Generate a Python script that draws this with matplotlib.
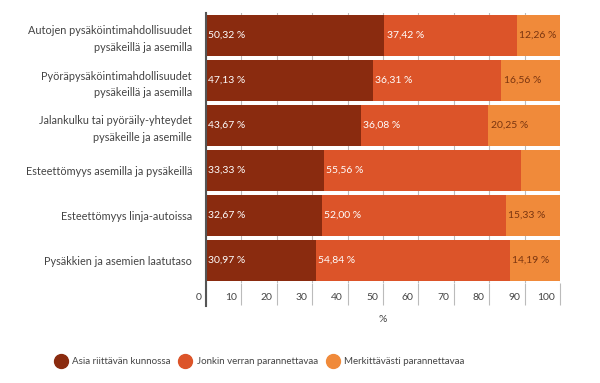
import numpy as np
import matplotlib.pyplot as plt
from matplotlib.lines import Line2D
from matplotlib.transforms import blended_transform_factory

categories = [
    "Autojen pysäköintimahdollisuudet\npysäkeillä ja asemilla",
    "Pyöräpysäköintimahdollisuudet\npysäkeillä ja asemilla",
    "Jalankulku tai pyöräily-yhteydet\npysäkeille ja asemille",
    "Esteettömyys asemilla ja pysäkeillä",
    "Esteettömyys linja-autoissa",
    "Pysäkkien ja asemien laatutaso",
]
series_names = ["Asia riittävän kunnossa", "Jonkin verran parannettavaa", "Merkittävästi parannettavaa"]
good = [50.32, 47.13, 43.67, 33.33, 32.67, 30.97]
some = [37.42, 36.31, 36.08, 55.56, 52.00, 54.84]
much = [12.26, 16.56, 20.25, 11.11, 15.33, 14.19]
show_label_much = [True, True, True, False, True, True]
xticks = [0, 10, 20, 30, 40, 50, 60, 70, 80, 90, 100]

colors = ["#8a2b0f", "#dc5429", "#f08a3a"]
text_colors = ["white", "white", "#7a3510"]

plt.rcParams['font.family'] = ['Lato', 'DejaVu Sans']

fig = plt.figure(figsize=(6, 3.83), dpi=100)
ax = fig.add_axes([206 / 600, 1 - 283 / 383, 354 / 600, 270 / 383])

y = np.arange(len(categories))
left = np.zeros(len(categories))
for vals, col, tcol, idx in zip([good, some, much], colors, text_colors, range(3)):
    ax.barh(y, vals, left=left, height=0.9, color=col, zorder=2)
    for i, v in enumerate(vals):
        if idx == 2 and not show_label_much[i]:
            continue
        ax.text(left[i] + 0.7, y[i], f"{v:.2f} %".replace(".", ","), color=tcol,
                va="center", ha="left", fontsize=7.5, zorder=3)
    left = left + np.array(vals)

ax.set_xlim(0, 100)
ax.set_ylim(len(categories) - 0.5, -0.5)
ax.set_yticks(y)
ax.set_yticklabels(categories, fontsize=7.8, color="#444444", linespacing=1.6)
ax.tick_params(axis="y", length=0, pad=10)
for lbl in ax.get_yticklabels():
    lbl.set_horizontalalignment("right")
    lbl.set_multialignment("right")

ax.set_xticks(xticks)
ax.set_xticklabels([])
ax.tick_params(axis="x", length=16, color="#bbbbbb", width=0.8)
ax.grid(axis="x", color="#bbbbbb", linewidth=0.8, zorder=0)
trans = blended_transform_factory(ax.transData, ax.transAxes)
for t in xticks:
    ax.text(t - 1.3, -0.052, str(t), transform=trans, ha="right", va="center",
            fontsize=7.5, color="#444444")
ax.text(50, -0.135, "%", transform=trans, ha="center", va="center", fontsize=7.5, color="#444444")

for s in ["top", "right", "bottom"]:
    ax.spines[s].set_visible(False)
ax.spines["left"].set_color("#555555")
ax.spines["left"].set_linewidth(1.5)
ax.spines["left"].set_bounds(len(categories), -0.5)
ax.spines["left"].set_zorder(4)

handles = [Line2D([0], [0], marker="o", linestyle="none", markersize=10,
                  markerfacecolor=c, markeredgecolor=c) for c in colors]
fig.legend(handles, series_names, loc="center left", bbox_to_anchor=(50 / 600, 1 - 362 / 383),
           ncol=3, frameon=False, fontsize=7, handletextpad=0.6, columnspacing=0.9,
           handlelength=1.2, borderpad=0, labelcolor="#444444")

fig.savefig("out.png", dpi=100)
